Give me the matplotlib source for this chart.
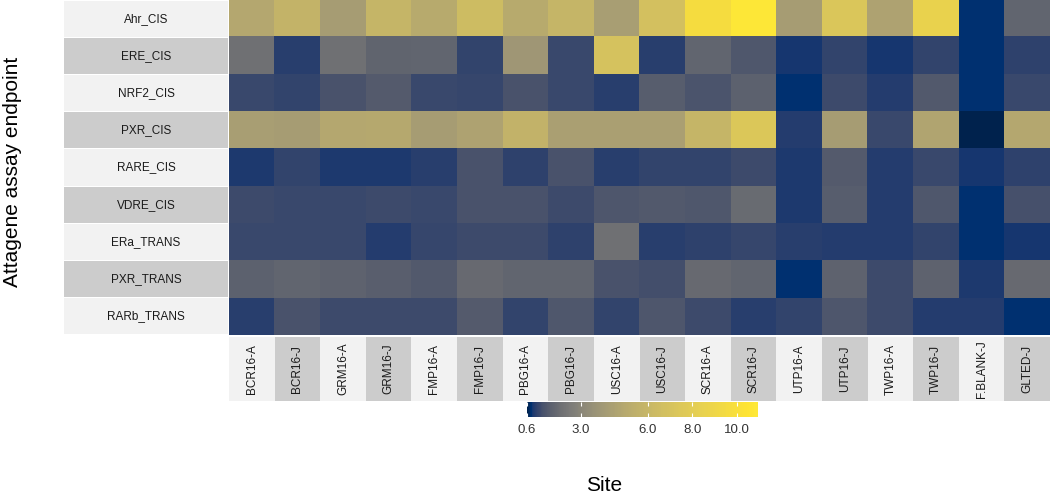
import matplotlib
matplotlib.use('Agg')

import matplotlib.pyplot as plt
import numpy as np
from matplotlib.colors import ListedColormap, Normalize
from matplotlib.patches import Rectangle

plt.rcParams['font.family'] = ['Liberation Sans', 'DejaVu Sans']

endpoints = ['Ahr_CIS', 'ERE_CIS', 'NRF2_CIS', 'PXR_CIS', 'RARE_CIS',
             'VDRE_CIS', 'ERa_TRANS', 'PXR_TRANS', 'RARb_TRANS']
sites = ['BCR16-A', 'BCR16-J', 'GRM16-A', 'GRM16-J', 'FMP16-A', 'FMP16-J',
         'PBG16-A', 'PBG16-J', 'USC16-A', 'USC16-J', 'SCR16-A', 'SCR16-J',
         'UTP16-A', 'UTP16-J', 'TWP16-A', 'TWP16-J', 'F.BLANK-J', 'GLTED-J']

# fold induction values
ahr_cis = [4.9, 5.8, 4.2, 5.9, 5.1, 6.5, 5.1, 5.9, 4.3, 6.8, 9.7, 10.95, 4.2, 7.4, 4.6, 8.6, 0.78, 1.85]
ere_cis = [2.2, 0.97, 2.2, 1.8, 1.85, 1.05, 3.9, 1.15, 7.0, 0.97, 1.85, 1.45, 0.88, 1.05, 0.88, 1.05, 0.78, 1.03]
nrf2_cis = [1.15, 1.05, 1.35, 1.55, 1.15, 1.1, 1.35, 1.15, 0.97, 1.6, 1.4, 1.7, 0.8, 1.2, 0.95, 1.5, 0.78, 1.15]
pxr_cis = [4.3, 4.2, 4.9, 5.0, 4.2, 4.6, 5.7, 4.4, 4.4, 4.4, 5.9, 7.5, 0.94, 4.2, 1.15, 4.7, 0.60, 4.9]
rare_cis = [0.9, 1.05, 0.9, 0.9, 0.97, 1.35, 1.03, 1.35, 0.98, 1.05, 1.05, 1.2, 0.9, 1.55, 0.94, 1.15, 0.85, 1.03]
vdre_cis = [1.17, 1.15, 1.15, 1.2, 1.13, 1.33, 1.33, 1.17, 1.43, 1.5, 1.45, 2.0, 0.92, 1.6, 0.94, 1.45, 0.8, 1.3]
era_trans = [1.15, 1.15, 1.13, 0.95, 1.1, 1.2, 1.2, 1.03, 2.2, 0.97, 1.02, 1.1, 0.97, 0.94, 0.95, 1.05, 0.78, 0.88]
pxr_trans = [1.7, 1.85, 1.75, 1.65, 1.5, 1.95, 1.85, 1.85, 1.33, 1.27, 1.95, 1.85, 0.8, 1.75, 1.17, 1.75, 0.92, 1.95]
rarb_trans = [0.97, 1.35, 1.2, 1.17, 1.17, 1.55, 1.05, 1.45, 1.07, 1.43, 1.2, 0.97, 1.05, 1.43, 1.17, 0.95, 0.95, 0.78]

vals = np.array([ahr_cis, ere_cis, nrf2_cis, pxr_cis, rare_cis,
                 vdre_cis, era_trans, pxr_trans, rarb_trans])

vmin, vmax = 0.6, 10.95

# colours run along cividis on a log scale, while the legend bar stays linear
s = np.linspace(0, 1, 256)
v = vmin + s * (vmax - vmin)
t = np.log(v / vmin) / np.log(vmax / vmin)
cmap = ListedColormap(plt.get_cmap('cividis')(t))
norm = Normalize(vmin=vmin, vmax=vmax)

W, H = 1050, 494
fig = plt.figure(figsize=(W / 100, H / 100), dpi=100)

def box(x0, y0, x1, y1):
    # pixel box -> figure coords
    return [x0 / W, 1 - y1 / H, (x1 - x0) / W, (y1 - y0) / H]

nr, nc = vals.shape
light, dark = '#F2F2F2', '#CCCCCC'

ax = fig.add_axes(box(229, 0, 1050, 335))
ax.imshow(vals, cmap=cmap, norm=norm, aspect='auto', interpolation='nearest',
          extent=(0, nc, nr, 0))
ax.set_xlim(0, nc)
ax.set_ylim(nr, 0)
ax.axis('off')

# row strip labels
axr = fig.add_axes(box(64, 0, 228, 335))
axr.set_xlim(0, 1)
axr.set_ylim(nr, 0)
axr.axis('off')
for i, name in enumerate(endpoints):
    axr.add_patch(Rectangle((0, i + 0.015), 1, 0.97, color=light if i % 2 == 0 else dark, lw=0))
    axr.text(0.5, i + 0.5, name, ha='center', va='center', fontsize=8.5, color='#1A1A1A')

# column strip labels
axc = fig.add_axes(box(229, 337, 1050, 401))
axc.set_xlim(0, nc)
axc.set_ylim(0, 1)
axc.axis('off')
for j, name in enumerate(sites):
    axc.add_patch(Rectangle((j, 0), 1, 1, color=light if j % 2 == 0 else dark, lw=0))
    axc.text(j + 0.5, 0.5, name, ha='center', va='center', rotation=90,
             fontsize=8.5, color='#1A1A1A')

# colour bar
cax = fig.add_axes(box(527, 402, 758, 417))
cb = fig.colorbar(plt.cm.ScalarMappable(norm=norm, cmap=cmap), cax=cax, orientation='horizontal')
cb.set_ticks([0.6, 3.0, 6.0, 8.0, 10.0])
cb.set_ticklabels(['0.6', '3.0', '6.0', '8.0', '10.0'])
cb.outline.set_visible(False)
cax.tick_params(axis='x', direction='in', color='white', length=3, width=0.8,
                top=True, bottom=True, labelsize=9.5, labelcolor='#333333', pad=5)

fig.text(604 / W, 1 - 485 / H, 'Site', ha='center', va='center', fontsize=15)
fig.text(13 / W, 1 - 172 / H, 'Attagene assay endpoint', ha='center', va='center',
         rotation=90, fontsize=15)

fig.savefig('out.png', dpi=100)
